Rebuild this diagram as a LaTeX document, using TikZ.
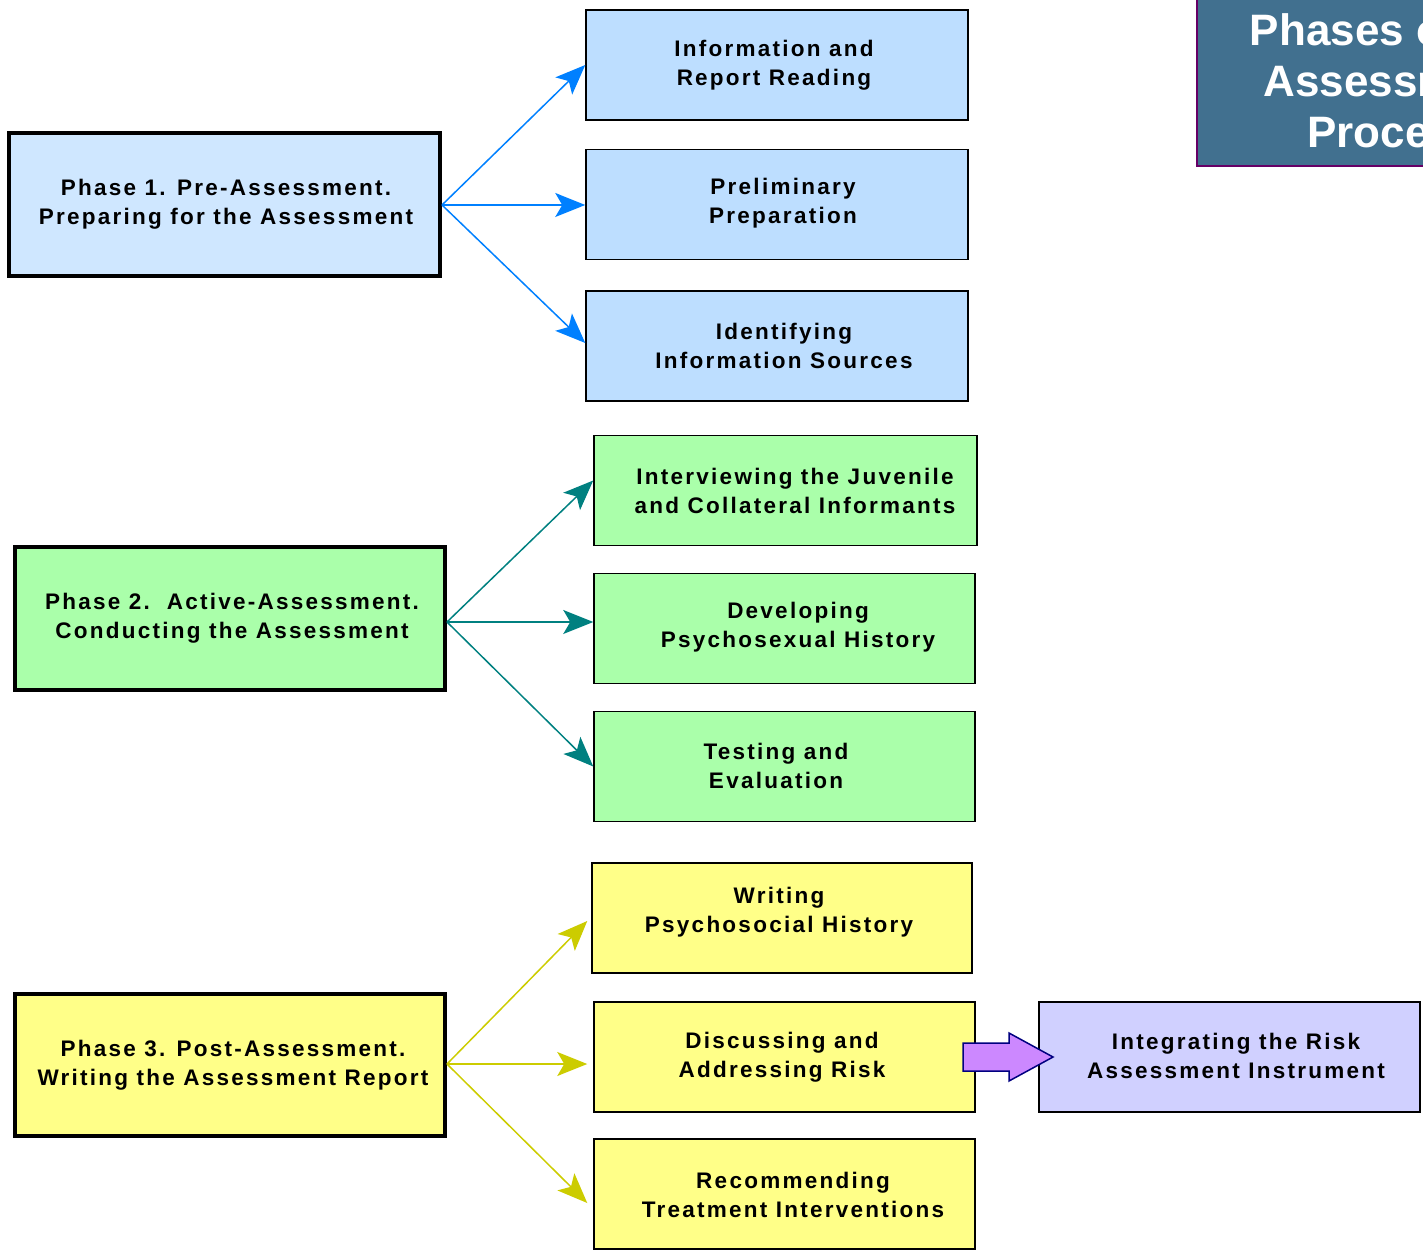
\documentclass[tikz,border=0pt]{standalone}
\usepackage{fontspec}
\usetikzlibrary{arrows.meta}
\newfontfamily\lblfont{Liberation Sans}[LetterSpace=10]
\newfontfamily\ttlfont{Liberation Sans}
\definecolor{pbA}{HTML}{CFE7FF}
\definecolor{cbA}{HTML}{BDDEFF}
\definecolor{gA}{HTML}{AAFFAA}
\definecolor{yA}{HTML}{FFFF88}
\definecolor{vA}{HTML}{D0D0FF}
\definecolor{ttlA}{HTML}{41708F}
\definecolor{arB}{HTML}{0080FF}
\definecolor{arT}{HTML}{008080}
\definecolor{arY}{HTML}{CCCC00}
\definecolor{purA}{HTML}{CC88FF}
\tikzset{
  box/.style={draw=black, line width=1.5pt, inner sep=0pt, minimum width=381pt, minimum height=110pt},
  phase/.style={draw=black, line width=4pt, inner sep=0pt, minimum width=431pt, minimum height=143pt},
  txt/.style={font=\lblfont\bfseries\fontsize{22.5}{28.5}\selectfont, align=center, inner sep=0pt},
  arr/.style={line width=1.5pt, -{Stealth[length=30pt,width=24pt,inset=7pt]}},
  bigarrow/.style={draw=blue!50!black, line width=1.5pt, fill=purA, line join=miter}
}
\begin{document}
\begin{tikzpicture}[x=1pt,y=1pt]
\useasboundingbox (0,0) rectangle (1423,1254);
\clip (0,0) rectangle (1423,1254);
% title
\node[draw=violet!80!black, line width=2pt, fill=ttlA, minimum width=400pt, minimum height=185pt, anchor=south west, inner sep=0pt] (title) at (1196,1087) {};
\node[font=\ttlfont\bfseries\fontsize{44}{51}\selectfont, text=white, align=center, inner sep=0pt] (ttl) at (1393,1173) {Phases of the\\Assessment\\Process};
% phase 1
\node[phase, fill=pbA] (p1) at (224.5,1049) {};
\node[txt] (p1t) at (226,1050) {Phase 1. Pre-Assessment.\\Preparing for the Assessment};
\node[box, fill=cbA, minimum width=382pt] (c1) at (777,1189) {};
\node[txt] (c1t) at (774,1189) {Information and\\Report Reading};
\node[box, fill=cbA, minimum width=382pt] (c2) at (777,1049.5) {};
\node[txt] (c2t) at (783,1051) {Preliminary\\Preparation};
\node[box, fill=cbA, minimum width=382pt] (c3) at (777,908) {};
\node[txt] (c3t) at (784,908) {Identifying\\Information Sources};
\draw[arr, arB] (p1.east) -- (c1.west);
\draw[arr, arB] (p1.east) -- (c2.west |- p1.east);
\draw[arr, arB] (p1.east) -- ([yshift=3pt]c3.west);
% phase 2
\node[phase, fill=gA, minimum width=430pt] (p2) at (230,635.5) {};
\coordinate (p2o) at ([yshift=-3.5pt]p2.east);
\node[txt] (p2t) at (232,636) {Phase 2.\ \ Active-Assessment.\\Conducting the Assessment};
\node[box, fill=gA, minimum width=383pt] (d1) at (785.5,763.5) {};
\node[txt] (d1t) at (795,763) {Interviewing the Juvenile\\and Collateral Informants};
\node[box, fill=gA] (d2) at (784.5,625.5) {};
\node[txt] (d2t) at (798,627) {Developing\\Psychosexual History};
\node[box, fill=gA] (d3) at (784.5,487.5) {};
\node[txt] (d3t) at (776,488) {Testing and\\Evaluation};
\draw[arr, arT] (p2o) -- ([yshift=10pt]d1.west);
\draw[arr, arT] (p2o) -- (d2.west |- p2o);
\draw[arr, arT] (p2o) -- (d3.west);
% phase 3
\node[phase, fill=yA, minimum width=430pt, minimum height=142pt] (p3) at (230,189) {};
\coordinate (p3o) at ([yshift=1pt]p3.east);
\node[txt] (p3t) at (233,189) {Phase 3. Post-Assessment.\\Writing the Assessment Report};
\node[box, fill=yA, minimum width=380pt] (e1) at (782,336) {};
\node[txt] (e1t) at (779,342) {Writing\\Psychosocial History};
\node[box, fill=yA] (e2) at (784.5,197) {};
\node[txt] (e2t) at (782,197) {Discussing and\\Addressing Risk};
\node[box, fill=yA] (e3) at (784.5,60) {};
\node[txt] (e3t) at (793,59) {Recommending\\Treatment Interventions};
\node[box, fill=vA] (f) at (1229.5,197) {};
\node[txt] (ft) at (1236,198) {Integrating the Risk\\Assessment Instrument};
\coordinate (e2in) at ([xshift=-6pt]e2.west |- p3o);
\draw[arr, arY] (p3o) -- ([xshift=-4pt,yshift=-3pt]e1.west);
\draw[arr, arY] (p3o) -- (e2in);
\draw[arr, arY] (p3o) -- ([xshift=-6pt,yshift=-9pt]e3.west);
% block arrow
\coordinate (ba) at (963,197);
\draw[bigarrow] ([yshift=14pt]ba) -- ++(46,0) -- ++(0,10) -- ++(44,-24) -- ++(-44,-24) -- ++(0,10) -- ++(-46,0) -- cycle;
\end{tikzpicture}
\end{document}
